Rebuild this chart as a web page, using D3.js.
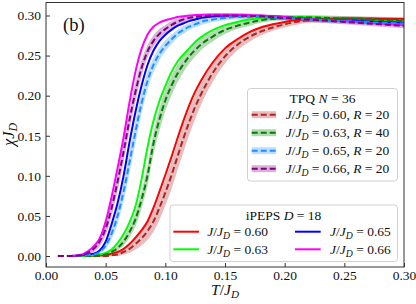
<!DOCTYPE html>
<html><head><meta charset="utf-8">
<script src="https://cdn.jsdelivr.net/npm/d3@7"></script>
<style>
body{margin:0;background:#fff}
svg{display:block}
text{font-family:"Liberation Serif","DejaVu Serif",serif;fill:#111}
</style>
</head><body>
<svg id="c" width="416" height="304"></svg>
<script>
// ---------- data ----------
const T = [0.01,0.02,0.03,0.035,0.04,0.045,0.05,0.055,0.06,0.065,0.07,0.075,0.08,0.085,0.09,0.095,0.10,0.105,0.11,0.115,0.12,0.125,0.13,0.14,0.15,0.16,0.17,0.18,0.19,0.20,0.22,0.25,0.28,0.30];

// iPEPS D=18
const ipeps060 = [null,0,0,0,0,0.0005,0.001,0.003,0.005,0.009,0.015,0.023,0.032,0.043,0.060,0.080,0.101,0.123,0.146,0.168,0.188,0.205,0.219,0.242,0.259,0.270,0.279,0.285,0.289,0.292,0.2955,0.2965,0.296,0.2955];
const ipeps063 = [null,0,0,0.0005,0.001,0.002,0.004,0.008,0.016,0.027,0.042,0.062,0.095,0.135,0.168,0.193,0.212,0.229,0.242,0.251,0.259,0.267,0.273,0.282,0.288,0.292,0.295,0.297,0.298,0.2985,0.298,0.296,0.2945,0.2935];
const ipeps065 = [null,0,0.001,0.002,0.003,0.007,0.018,0.040,0.066,0.100,0.142,0.180,0.212,0.238,0.256,0.268,0.276,0.282,0.287,0.290,0.293,0.295,0.297,0.299,0.300,0.300,0.2998,0.2995,0.299,0.298,0.296,0.294,0.292,0.291];
const ipeps066 = [null,0,0.002,0.006,0.012,0.022,0.043,0.074,0.110,0.148,0.192,0.230,0.258,0.276,0.286,0.291,0.294,0.296,0.298,0.299,0.300,0.3005,0.301,0.301,0.301,0.3008,0.3005,0.300,0.299,0.298,0.296,0.293,0.290,0.288];

// TPQ N=36 (mean) and half-width of the shaded band
const tpq060 = [0,0,0,0,0,0,0,0.001,0.002,0.005,0.009,0.015,0.022,0.031,0.043,0.060,0.079,0.100,0.123,0.146,0.167,0.186,0.202,0.229,0.249,0.263,0.273,0.280,0.285,0.289,0.294,0.296,0.2955,0.295];
const tpq063 = [0,0,0,0,0,0.001,0.002,0.005,0.010,0.018,0.030,0.046,0.070,0.100,0.140,0.170,0.194,0.212,0.227,0.239,0.249,0.257,0.264,0.274,0.282,0.287,0.291,0.294,0.296,0.297,0.2975,0.296,0.2945,0.2935];
const tpq065 = [0,0,0,0.001,0.002,0.005,0.013,0.028,0.050,0.080,0.117,0.155,0.190,0.218,0.238,0.252,0.262,0.270,0.277,0.282,0.286,0.289,0.292,0.295,0.297,0.298,0.298,0.298,0.2975,0.297,0.295,0.293,0.291,0.290];
const tpq066 = [0,0,0.001,0.004,0.009,0.018,0.034,0.060,0.093,0.130,0.170,0.205,0.234,0.255,0.268,0.277,0.283,0.288,0.292,0.295,0.297,0.298,0.299,0.300,0.300,0.2998,0.2995,0.299,0.298,0.297,0.295,0.292,0.289,0.287];
const err060 = [0,0,0,0,0,0,0.0005,0.001,0.002,0.003,0.005,0.007,0.009,0.011,0.013,0.015,0.016,0.017,0.017,0.017,0.016,0.015,0.013,0.011,0.009,0.007,0.006,0.005,0.004,0.004,0.003,0.003,0.003,0.003];
const err063 = [0,0,0,0,0,0.0005,0.001,0.002,0.003,0.005,0.007,0.009,0.011,0.013,0.014,0.014,0.013,0.012,0.011,0.010,0.009,0.008,0.007,0.006,0.005,0.004,0.004,0.003,0.003,0.003,0.003,0.003,0.003,0.003];
const err065 = [0,0,0,0.0005,0.001,0.002,0.004,0.007,0.010,0.012,0.014,0.014,0.013,0.011,0.009,0.008,0.007,0.006,0.005,0.005,0.004,0.004,0.004,0.003,0.003,0.003,0.003,0.003,0.003,0.003,0.003,0.003,0.003,0.003];
const err066 = [0,0,0.0005,0.002,0.004,0.006,0.008,0.010,0.012,0.013,0.013,0.012,0.010,0.008,0.007,0.006,0.005,0.005,0.004,0.004,0.004,0.003,0.003,0.003,0.003,0.003,0.003,0.003,0.003,0.003,0.003,0.003,0.003,0.003];

const couplings = ["0.60","0.63","0.65","0.66"];
const tpqR = ["20","40","20","20"];
const tpqN = "36";
const ipepsD = "18";
const xTicks = [0.00,0.05,0.10,0.15,0.20,0.25,0.30];
const yTicks = [0.00,0.05,0.10,0.15,0.20,0.25,0.30];

const tpqSeries = [tpq060,tpq063,tpq065,tpq066];
const tpqErr = [err060,err063,err065,err066];
const ipepsSeries = [ipeps060,ipeps063,ipeps065,ipeps066];
const tpqColors = ["#b22222","#008000","#1e90ff","#800080"];
const ipepsColors = ["#ff0000","#00ff00","#0000ff","#ff00ff"];

// ---------- layout ----------
const m = {l:46, r:404, t:2.5, b:267};
const FS = 13.5;
const svg = d3.select("#c");
const x = d3.scaleLinear().domain([0,0.30]).range([m.l,m.r]);
const y = d3.scaleLinear().domain([-0.0137,0.3162]).range([m.b,m.t]);

svg.append("clipPath").attr("id","clip").append("rect")
  .attr("x",m.l).attr("y",m.t).attr("width",m.r-m.l).attr("height",m.b-m.t);
const plot = svg.append("g").attr("clip-path","url(#clip)");

// bands
tpqSeries.forEach((s,i)=>{
  const pts = T.map((t,k)=>({t, v:s[k], e:tpqErr[i][k]}));
  plot.append("path").datum(pts)
    .attr("fill",tpqColors[i]).attr("fill-opacity",0.3)
    .attr("d", d3.area().curve(d3.curveMonotoneX)
      .x(d=>x(d.t)).y0(d=>y(d.v-d.e)).y1(d=>y(d.v+d.e)));
});
// iPEPS solid lines
ipepsSeries.forEach((s,i)=>{
  const pts = T.map((t,k)=>({t, v:s[k]})).filter(d=>d.v!=null);
  plot.append("path").datum(pts)
    .attr("fill","none").attr("stroke",ipepsColors[i]).attr("stroke-width",2)
    .attr("d", d3.line().curve(d3.curveMonotoneX).x(d=>x(d.t)).y(d=>y(d.v)));
});
// TPQ dashed lines
tpqSeries.forEach((s,i)=>{
  const pts = T.map((t,k)=>({t, v:s[k]}));
  plot.append("path").datum(pts)
    .attr("fill","none").attr("stroke",tpqColors[i]).attr("stroke-width",2)
    .attr("stroke-dasharray","6,3")
    .attr("d", d3.line().curve(d3.curveMonotoneX).x(d=>x(d.t)).y(d=>y(d.v)));
});

// axes
const fmt = d3.format(".2f");
const gx = svg.append("g").attr("transform",`translate(0,${m.b})`)
  .call(d3.axisBottom(x).tickValues(xTicks).tickFormat(fmt).tickSizeInner(-4).tickSizeOuter(0).tickPadding(3));
const gy = svg.append("g").attr("transform",`translate(${m.l},0)`)
  .call(d3.axisLeft(y).tickValues(yTicks).tickFormat(fmt).tickSizeInner(-4).tickSizeOuter(0).tickPadding(5));
[gx,gy].forEach(g=>{
  g.select(".domain").remove();
  g.selectAll("line").attr("stroke","#333");
  g.selectAll("text").attr("font-family","'Liberation Serif',serif").attr("font-size",FS).attr("fill","#111");
});
svg.append("rect").attr("x",m.l).attr("y",m.t).attr("width",m.r-m.l).attr("height",m.b-m.t)
  .attr("fill","none").attr("stroke","#333").attr("stroke-width",1);

// math-ish text helper
function mtext(sel, parts){
  parts.forEach(([s,st])=>{
    const ts = sel.append("tspan").text(s);
    if(st==="i") ts.attr("font-style","italic");
    if(st==="s") ts.attr("font-style","italic").attr("font-size","72%").attr("baseline-shift","-25%");
  });
  return sel;
}

// axis labels
mtext(svg.append("text").attr("x",225).attr("y",295).attr("text-anchor","middle").attr("font-size",15.5),
  [["T","i"],["/",""],["J","i"],["D","s"]]);
mtext(svg.append("text").attr("transform","translate(14,134.5) rotate(-90)").attr("text-anchor","middle").attr("font-size",16.5),
  [["χ","i"],["J","i"],["D","s"]]);

// panel label
svg.append("text").attr("x",63).attr("y",31).attr("font-size",18.5).text("(b)");

// ---------- legend TPQ ----------
const lg1 = svg.append("g");
lg1.append("rect").attr("x",247.5).attr("y",88.5).attr("width",150).attr("height",92.5).attr("rx",3)
  .attr("fill","#fff").attr("fill-opacity",0.8).attr("stroke","#d0d0d0");
mtext(lg1.append("text").attr("x",322.5).attr("y",102.5).attr("text-anchor","middle").attr("font-size",FS),
  [["TPQ ",""],["N","i"],[" = "+tpqN,""]]);
couplings.forEach((c,i)=>{
  const cy = 114.7 + i*18;
  lg1.append("rect").attr("x",251.7).attr("y",cy-3.5).attr("width",24.3).attr("height",7)
    .attr("fill",tpqColors[i]).attr("fill-opacity",0.3);
  lg1.append("line").attr("x1",251.7).attr("x2",276).attr("y1",cy).attr("y2",cy)
    .attr("stroke",tpqColors[i]).attr("stroke-width",2).attr("stroke-dasharray","6,3");
  mtext(lg1.append("text").attr("x",285.7).attr("y",cy+4.5).attr("font-size",FS),
    [["J","i"],["/",""],["J","i"],["D","s"],[" = "+c+", ",""],["R","i"],[" = "+tpqR[i],""]]);
});

// ---------- legend iPEPS ----------
const lg2 = svg.append("g");
lg2.append("rect").attr("x",170).attr("y",205).attr("width",227.5).attr("height",56.5).attr("rx",3)
  .attr("fill","#fff").attr("fill-opacity",0.8).attr("stroke","#d0d0d0");
mtext(lg2.append("text").attr("x",283.5).attr("y",219.5).attr("text-anchor","middle").attr("font-size",FS),
  [["iPEPS ",""],["D","i"],[" = "+ipepsD,""]]);
couplings.forEach((c,i)=>{
  const col = Math.floor(i/2), row = i%2;
  const hx = col===0 ? 173.3 : 295;
  const tx = col===0 ? 207.3 : 330;
  const cy = 231.7 + row*17.6;
  lg2.append("line").attr("x1",hx).attr("x2",hx+25.7).attr("y1",cy).attr("y2",cy)
    .attr("stroke",ipepsColors[i]).attr("stroke-width",2);
  mtext(lg2.append("text").attr("x",tx).attr("y",cy+4.5).attr("font-size",FS),
    [["J","i"],["/",""],["J","i"],["D","s"],[" = "+c,""]]);
});
</script>
</body></html>
